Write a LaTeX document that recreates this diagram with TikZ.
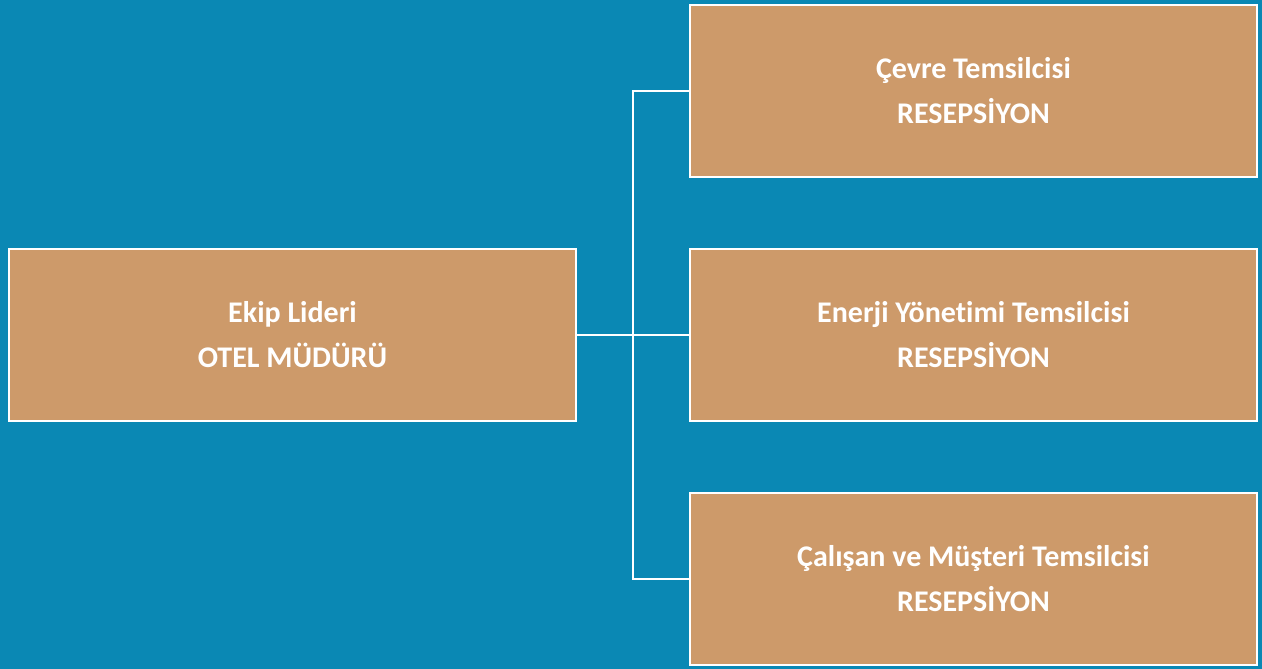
\documentclass[tikz,border=0pt]{standalone}
\usepackage{fontspec}
\setmainfont[Ligatures=NoCommon]{Carlito}
\definecolor{bgblue}{HTML}{0A88B4}
\definecolor{tan}{HTML}{CD9A6A}
\begin{document}
\begin{tikzpicture}[x=1pt,y=-1pt,
  box/.style={draw=white,line width=2pt,fill=tan,minimum width=567pt,minimum height=172pt,
    inner sep=0pt,text=white,font=\bfseries\fontsize{30}{45}\selectfont,align=center,anchor=north west},
  conn/.style={draw=white,line width=2.2pt}]
\fill[bgblue] (0,0) rectangle (1262,669);
\useasboundingbox (0,0) rectangle (1262,669);
\node[box] (lead) at (8,248) {Ekip Lideri\\OTEL MÜDÜRÜ};
\node[box] (cevre) at (689,4) {Çevre Temsilcisi\\RESEPSİYON};
\node[box] (enerji) at (689,248) {Enerji Yönetimi Temsilcisi\\RESEPSİYON};
\node[box] (calisan) at (689,492) {Çalışan ve Müşteri Temsilcisi\\RESEPSİYON};
\coordinate (j) at ([xshift=56pt]lead.east);
\draw[conn] (lead.east) -- (j) -- (enerji.west);
\draw[conn] (cevre.west) -| (j);
\draw[conn] (calisan.west) -| (j);
\end{tikzpicture}
\end{document}
